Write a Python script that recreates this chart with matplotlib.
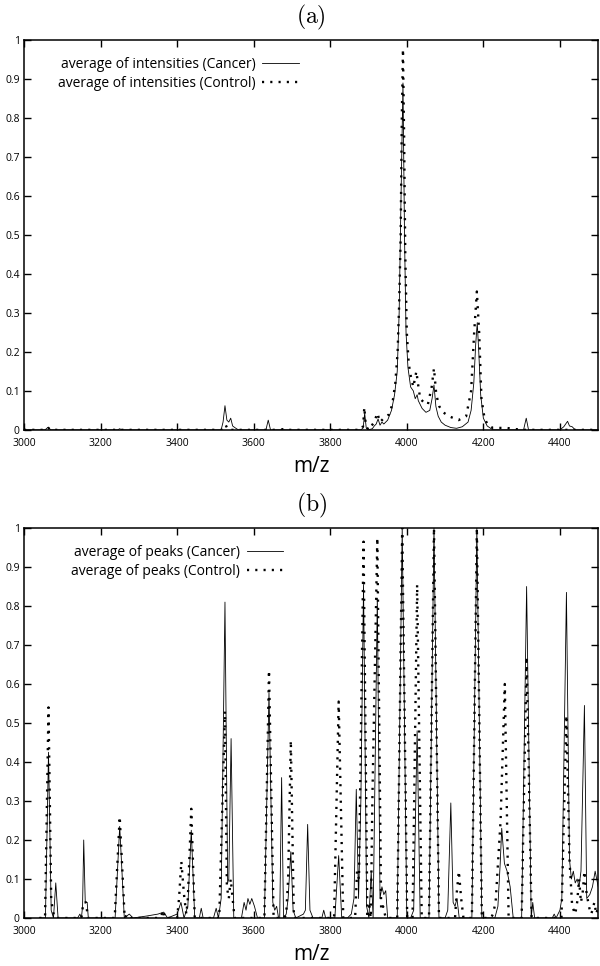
import matplotlib
matplotlib.use("Agg")
import matplotlib.pyplot as plt
import numpy as np

plt.rcParams["font.family"] = ["Open Sans", "DejaVu Sans"]
plt.rcParams["mathtext.fontset"] = "cm"

# ------------------------------------------------------------
# data (m/z, normalised intensity)
# ------------------------------------------------------------

# (a) average of intensities
int_cancer_mz = [3000, 3055, 3062, 3070, 3245, 3250, 3255, 3515, 3520, 3525, 3530, 3535, 3540,
                 3545, 3552, 3560, 3632, 3638, 3644, 3670, 3675, 3680, 3880, 3886, 3890, 3894,
                 3900, 3910, 3915, 3920, 3925, 3930, 3935, 3940, 3950, 3960, 3968, 3975, 3980,
                 3985, 3990, 3994, 3998, 4003, 4010, 4017, 4022, 4027, 4030, 4040, 4050, 4060,
                 4066, 4071, 4076, 4082, 4090, 4100, 4115, 4130, 4145, 4160, 4168, 4175, 4180,
                 4184, 4188, 4193, 4200, 4210, 4225, 4305, 4312, 4318, 4400, 4410, 4415, 4420,
                 4425, 4432, 4440, 4500]
int_cancer = [0, 0, 0.006, 0, 0, 0.003, 0, 0, 0.02, 0.062, 0.025, 0.02, 0.03,
              0.01, 0.005, 0, 0, 0.025, 0, 0, 0.004, 0, 0, 0.005, 0.043, 0.005,
              0, 0.003, 0.01, 0.015, 0.028, 0.012, 0.02, 0.015, 0.025, 0.05, 0.09, 0.15, 0.3,
              0.6, 0.89, 0.5, 0.25, 0.16, 0.11, 0.1, 0.08, 0.09, 0.075, 0.055, 0.045, 0.05,
              0.08, 0.115, 0.06, 0.035, 0.02, 0.012, 0.006, 0.004, 0.008, 0.02, 0.05, 0.12, 0.22,
              0.275, 0.2, 0.09, 0.03, 0.01, 0, 0, 0.03, 0, 0, 0.008, 0.015, 0.022,
              0.01, 0.008, 0, 0]

int_control_mz = [3000, 3060, 3064, 3068, 3520, 3527, 3533, 3880, 3886, 3889, 3893, 3900, 3915,
                  3923, 3930, 3940, 3954, 3962, 3970, 3976, 3980, 3984, 3987, 3990, 3993, 3996,
                  4000, 4005, 4010, 4017, 4025, 4029, 4035, 4045, 4055, 4065, 4071, 4077, 4085,
                  4095, 4110, 4135, 4155, 4168, 4176, 4183, 4189, 4195, 4203, 4212, 4225, 4260,
                  4300, 4500]
int_control = [0, 0, 0.005, 0, 0, 0.012, 0, 0, 0.01, 0.058, 0.01, 0, 0.02,
               0.043, 0.02, 0.03, 0.04, 0.065, 0.12, 0.2, 0.32, 0.5, 0.8, 0.977, 0.75, 0.45,
               0.25, 0.17, 0.14, 0.11, 0.15, 0.12, 0.08, 0.07, 0.065, 0.11, 0.158, 0.09, 0.06,
               0.045, 0.035, 0.025, 0.035, 0.1, 0.25, 0.355, 0.25, 0.08, 0.03, 0.012, 0.005, 0.005,
               0, 0]

# (b) average of peaks
pk_cancer_mz = [3040, 3056, 3064, 3071, 3077, 3083, 3089, 3140, 3146, 3150, 3153, 3156, 3160,
                3165, 3168, 3238, 3250, 3262, 3275, 3285, 3320, 3350, 3365, 3375, 3400, 3410,
                3418, 3428, 3437, 3446, 3458, 3463, 3468, 3495, 3502, 3508, 3515, 3525, 3532,
                3535, 3541, 3548, 3568, 3575, 3580, 3585, 3590, 3595, 3602, 3610, 3628, 3640,
                3650, 3655, 3660, 3665, 3668, 3673, 3678, 3685, 3690, 3697, 3703, 3710, 3730,
                3735, 3741, 3747, 3755, 3778, 3783, 3788, 3812, 3822, 3830, 3845, 3855, 3862,
                3868, 3874, 3880, 3887, 3895, 3901, 3907, 3912, 3916, 3923, 3930, 3935, 3940,
                3945, 3950, 3975, 3988, 4000, 4010, 4018, 4027, 4035, 4058, 4071, 4084, 4100,
                4107, 4115, 4121, 4126, 4131, 4137, 4170, 4183, 4196, 4230, 4238, 4244, 4248,
                4255, 4262, 4270, 4278, 4300, 4313, 4325, 4329, 4334, 4380, 4385, 4390, 4400,
                4405, 4417, 4425, 4430, 4435, 4440, 4445, 4450, 4455, 4464, 4470, 4478, 4485,
                4492, 4500]
pk_cancer = [0, 0, 0.425, 0.02, 0, 0.09, 0, 0, 0.01, 0, 0.03, 0.2, 0.04,
             0.04, 0, 0, 0.235, 0, 0.01, 0, 0.005, 0.01, 0.015, 0, 0.01, 0.04,
             0, 0.03, 0.225, 0, 0, 0.025, 0, 0, 0.025, 0, 0.05, 0.81, 0.09,
             0.1, 0.46, 0, 0, 0.04, 0.02, 0.05, 0.035, 0.05, 0.03, 0, 0, 0.577,
             0.04, 0.02, 0.03, 0, 0, 0.36, 0, 0.01, 0.05, 0.17, 0.02, 0, 0.01,
             0.02, 0.24, 0.02, 0, 0, 0.02, 0, 0, 0.16, 0, 0, 0.01, 0.05,
             0.33, 0.05, 0.3, 0.855, 0.03, 0, 0.12, 0, 0.3, 0.82, 0.05, 0.08, 0.06,
             0.07, 0, 0, 1.0, 0, 0, 0.02, 0.48, 0, 0, 1.0, 0, 0,
             0.02, 0.295, 0.04, 0.03, 0.05, 0, 0, 1.0, 0, 0, 0.03, 0.14, 0.23,
             0.14, 0.12, 0.08, 0, 0, 0.85, 0, 0.04, 0, 0, 0.01, 0, 0.02,
             0.05, 0.835, 0.15, 0.1, 0.12, 0.09, 0.1, 0.08, 0.12, 0.545, 0.05, 0.06, 0.08,
             0.12, 0.08]

pk_control_mz = [3040, 3055, 3064, 3071, 3075, 3080, 3150, 3155, 3162, 3167, 3237, 3250, 3263,
                 3270, 3280, 3355, 3360, 3364, 3368, 3400, 3405, 3411, 3418, 3424, 3428, 3437,
                 3446, 3510, 3525, 3530, 3535, 3540, 3545, 3550, 3628, 3640, 3652, 3680, 3685,
                 3690, 3697, 3705, 3810, 3822, 3834, 3865, 3870, 3875, 3887, 3897, 3902, 3906,
                 3910, 3923, 3933, 3938, 3945, 3975, 3988, 4001, 4015, 4027, 4039, 4058, 4071,
                 4084, 4126, 4130, 4136, 4142, 4148, 4170, 4183, 4196, 4220, 4225, 4232, 4245,
                 4256, 4266, 4300, 4313, 4326, 4404, 4417, 4425, 4432, 4440, 4445, 4450, 4455,
                 4460, 4464, 4470, 4478, 4482, 4490, 4495, 4500]
pk_control = [0, 0, 0.54, 0.05, 0.02, 0, 0, 0.04, 0.04, 0, 0, 0.26, 0,
              0.01, 0, 0, 0.01, 0.02, 0, 0, 0.05, 0.145, 0.06, 0.01, 0.05, 0.28,
              0, 0, 0.53, 0.08, 0.05, 0.1, 0.05, 0, 0, 0.635, 0, 0, 0.01,
              0.1, 0.455, 0, 0, 0.555, 0, 0, 0.12, 0.1, 0.965, 0, 0.03, 0,
              0.3, 0.975, 0.02, 0.03, 0, 0, 1.0, 0, 0, 0.855, 0, 0, 1.0,
              0, 0, 0.06, 0.12, 0.05, 0, 0, 1.0, 0, 0, 0.01, 0.04, 0.25,
              0.6, 0, 0, 0.67, 0, 0, 0.52, 0.15, 0.03, 0.01, 0.04, 0.1, 0.04,
              0.07, 0.12, 0.06, 0.02, 0.01, 0.04, 0.01, 0.03]

xticks = [3000, 3200, 3400, 3600, 3800, 4000, 4200, 4400]
yticks = [0, 0.1, 0.2, 0.3, 0.4, 0.5, 0.6, 0.7, 0.8, 0.9, 1]

panels = [
    ("(a)", "average of intensities", int_cancer_mz, int_cancer, int_control_mz, int_control),
    ("(b)", "average of peaks", pk_cancer_mz, pk_cancer, pk_control_mz, pk_control),
]

# ------------------------------------------------------------
# figure
# ------------------------------------------------------------

fig = plt.figure(figsize=(6, 9.66), dpi=100)
boxes = [[0.04, 0.555, 0.957, 0.4035], [0.04, 0.0497, 0.957, 0.4037]]
legend_x = [0.495, 0.468]

for box, lx, (tag, name, xc, yc, xn, yn) in zip(boxes, legend_x, panels):
    ax = fig.add_axes(box)
    ax.plot(xc, yc, color="black", lw=0.6, label=name + " (Cancer)")
    ax.plot(xn, yn, color="black", lw=1.7, linestyle=(0, (0.9, 2.6)),
            dash_capstyle="butt", label=name + " (Control)")

    ax.set_xlim(3000, 4500)
    ax.set_ylim(0, 1)
    ax.set_xticks(xticks)
    ax.set_yticks(yticks)
    ax.set_yticklabels(["%g" % v for v in yticks])
    ax.tick_params(direction="in", length=5, width=1, top=True, right=True,
                   labelsize=7.5)
    ax.tick_params(axis="x", pad=6)
    ax.tick_params(axis="y", pad=3)
    for s in ax.spines.values():
        s.set_linewidth(1.1)

    ax.set_title("$\\mathrm{" + tag + "}$", fontsize=17, pad=12)
    ax.set_xlabel("m/z", fontsize=15, labelpad=5)

    ax.legend(loc="upper right", bbox_to_anchor=(lx, 0.982),
              frameon=False, markerfirst=False, fontsize=10, handlelength=2.6,
              handletextpad=0.5, labelspacing=0.32, borderaxespad=0.3)

fig.savefig("out.png", dpi=100)
